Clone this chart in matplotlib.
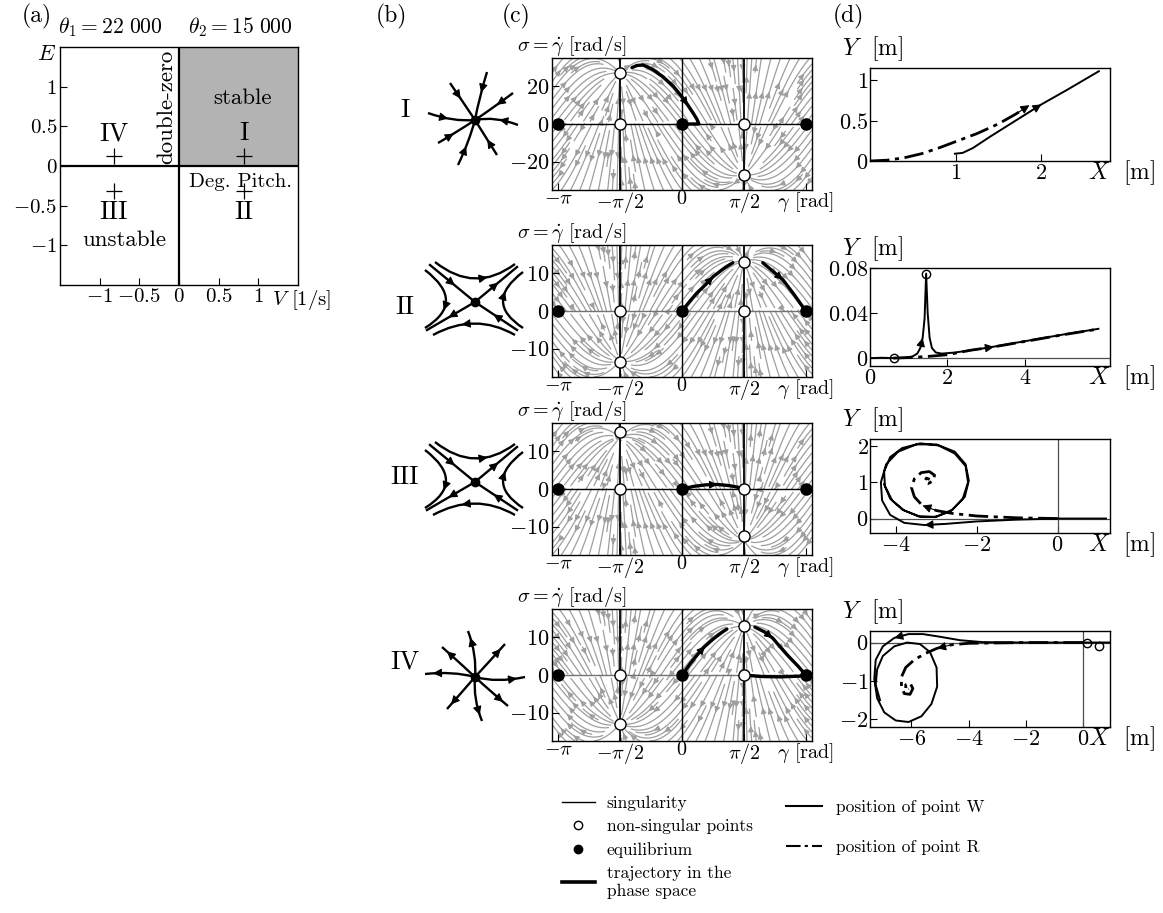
import numpy as np
import matplotlib
matplotlib.use('Agg')
import matplotlib.pyplot as plt
from matplotlib.path import Path
from matplotlib.patches import PathPatch, Rectangle
from matplotlib.lines import Line2D

plt.rcParams['font.family'] = 'serif'
plt.rcParams['font.serif'] = ['cmr10']
plt.rcParams['mathtext.fontset'] = 'cm'
plt.rcParams['axes.formatter.use_mathtext'] = True
plt.rcParams['axes.linewidth'] = 1.0

PI = np.pi

# ---------------- data ----------------
# (a) stability diagram
region_names = ['I', 'II', 'III', 'IV']
region_V = [0.82, 0.82, -0.82, -0.82]
region_E = [0.13, -0.32, -0.32, 0.13]
ab_ticks = [-1, -0.5, 0, 0.5, 1]
ab_ticklabels = ['$-1$', '$-0.5$', '$0$', '$0.5$', '$1$']

# (c) phase plane
sigma_lim = [35, 17.5, 17.5, 17.5]
sigma_ticks = [[-20, 0, 20], [-10, 0, 10], [-10, 0, 10], [-10, 0, 10]]
gamma_ticks = [-PI, -PI / 2, 0, PI / 2, PI]
gamma_ticklabels = [r'$-\pi$', r'$-\pi/2$', r'$0$', r'$\pi/2$', r'$\gamma$ [rad]']
equil_gamma = [-PI, 0, PI]
nonsing_gamma = [-PI / 2, -PI / 2, PI / 2, PI / 2]
nonsing_sigma = [[27, 0, 0, -27], [-13.5, 0, 13, 0], [15, 0, 0, -12.5], [-13, 0, 13, 0]]
zero_line_color = ['k', '0.45', 'k', '0.45']

# sigma value at gamma = -pi/2 where the grey stream lines meet
pencil_sigma = [27, -13.3, 13.7, -13]

# trajectories in the phase space: (gamma, sigma, arrow index)
traj_c = [
    [([-1.27, -1.15, -0.99, -0.75, -0.48, -0.22, 0.0, 0.15, 0.28, 0.38, 0.43, 0.3, 0.15, 0.0],
      [29.9, 31, 31.3, 29, 25, 20, 14.4, 10, 5.9, 2.5, 0, 0, 0, 0], 6)],
    [([0, 0.2, 0.38, 0.6, 0.79, 1.05, 1.29], [0, 2.6, 4.8, 7, 9.1, 11.2, 12.8], 3),
     ([2.05, 2.3, 2.56, 2.85, 3.14], [12.8, 10.6, 8.3, 4.3, 0], 1)],
    [([0, 0.3, 0.6, 0.9, 1.2, 1.45, 1.57], [0, 0.7, 1.1, 1.2, 0.9, 0.4, 0], 2)],
    [([0, 0.2, 0.4, 0.58, 0.8, 1.0, 1.14], [0, 2.9, 5.5, 7.6, 9.6, 11.2, 12.2], 2),
     ([1.85, 2.1, 2.3, 2.48, 2.7, 2.95, 3.14], [12.7, 11.4, 9.8, 7.6, 5, 2.3, 0], 1),
     ([1.57, 2.0, 2.5, 3.0, 3.14], [0, -0.4, -0.5, -0.3, 0], None)],
]

# (d) positions of points W and R
d_xlim = [(0, 2.8), (0, 6.2), (-4.65, 1.3), (-7.45, 0.95)]
d_ylim = [(0, 1.15), (-0.007, 0.08), (-0.4, 2.2), (-2.2, 0.3)]
d_xticks = [[1, 2], [0, 2, 4], [-4, -2, 0], [-6, -4, -2, 0]]
d_yticks = [[0, 0.5, 1], [0, 0.04, 0.08], [0, 1, 2], [-2, -1, 0]]
d_yticklabels = [['$0$', '$0.5$', '$1$'], ['$0$', '$0.04$', '$0.08$'],
                 ['$0$', '$1$', '$2$'], ['$-2$', '$-1$', '$0$']]

W_x = [
    [0.99, 1.08, 1.2, 1.4, 1.7, 2.0, 2.3, 2.67],
    [0, 0.3, 0.62, 0.9, 1.1, 1.22, 1.3, 1.36, 1.41, 1.45, 1.49, 1.54, 1.6, 1.7, 1.85, 2.2, 3, 4, 5, 5.9],
    [1.2, 0.5, 0, -1, -2, -2.8, -3.3, -3.8, -4.15, -4.35, -4.38, -4.25, -3.95, -3.5, -3.0, -2.55,
     -2.28, -2.2, -2.3, -2.6, -3.0, -3.4, -3.8, -4.1, -4.28, -4.3, -4.15, -3.85, -3.4, -2.95, -2.55,
     -2.28, -2.22, -2.35, -2.65, -3.05, -3.45, -3.85, -4.15, -4.3],
    [0.95, 0.6, 0, -2, -3.5, -4.3, -5.0, -5.6, -6.1, -6.6, -7.0, -7.25, -7.3, -7.2, -6.95, -6.55,
     -6.1, -5.65, -5.3, -5.1, -5.12, -5.35, -5.7, -6.15, -6.6, -7.0, -7.2, -7.25, -7.1],
]
W_y = [
    [0.09, 0.1, 0.16, 0.3, 0.5, 0.7, 0.88, 1.11],
    [0, 0.0003, 0, 0.0004, 0.0015, 0.004, 0.009, 0.018, 0.035, 0.075, 0.04, 0.018, 0.009, 0.005,
     0.004, 0.005, 0.009, 0.015, 0.021, 0.026],
    [0, 0, 0, -0.03, -0.08, -0.15, -0.18, -0.12, 0.1, 0.5, 1.0, 1.5, 1.85, 2.05, 2.05, 1.85,
     1.5, 1.05, 0.6, 0.25, 0.05, 0.05, 0.22, 0.5, 0.9, 1.3, 1.7, 1.95, 2.08, 2.02, 1.8,
     1.45, 1.0, 0.55, 0.2, 0.04, 0.06, 0.25, 0.55, 0.95],
    [0, 0, 0, 0, 0.01, 0.06, 0.15, 0.22, 0.22, 0.12, -0.1, -0.45, -0.95, -1.45, -1.82, -2.03,
     -2.07, -1.92, -1.6, -1.15, -0.65, -0.25, -0.04, 0.0, -0.1, -0.35, -0.7, -1.1, -1.5],
]
W_arrow = [4, 6, 5, 8]
R_x = [
    [0, 0.2, 0.4, 0.6, 0.8, 1.0, 1.25, 1.5, 1.7, 1.86],
    [0.6, 1.0, 1.5, 2.0, 2.6, 3.2, 4, 5, 5.9],
    [0, -1, -2, -2.6, -3.0, -3.35, -3.55, -3.62, -3.55, -3.38, -3.18, -3.05, -3.08, -3.2, -3.3, -3.25, -3.17],
    [0, -2, -4, -4.6, -5.1, -5.5, -5.9, -6.2, -6.35, -6.35, -6.25, -6.05, -5.95, -6.05, -6.2, -6.2, -6.1],
]
R_y = [
    [0, 0.01, 0.04, 0.09, 0.16, 0.24, 0.34, 0.46, 0.58, 0.69],
    [0, 0.0005, 0.0015, 0.003, 0.007, 0.010, 0.0148, 0.0208, 0.0258],
    [0, 0.02, 0.07, 0.14, 0.22, 0.36, 0.6, 0.85, 1.1, 1.27, 1.3, 1.2, 1.05, 0.97, 1.03, 1.12, 1.08],
    [0, 0, -0.02, -0.06, -0.15, -0.28, -0.45, -0.65, -0.9, -1.15, -1.33, -1.35, -1.2, -1.05, -1.1, -1.25, -1.2],
]
R_arrow = [8, 4, 4, 3]
d_circles_x = [[], [0.62, 1.45], [], [0.15, 0.55]]
d_circles_y = [[], [0.0, 0.075], [], [0.0, -0.08]]

# ---------------- figure ----------------
FW, FH = 1163, 913
fig = plt.figure(figsize=(FW / 100, FH / 100), dpi=100)
TICK = 16


def px_axes(left, top, width, height):
    return fig.add_axes([left / FW, 1 - (top + height) / FH, width / FW, height / FH])


def ftext(x, y, s, **kw):
    fig.text(x / FW, 1 - y / FH, s, **kw)


def head(ax, x0, y0, x1, y1, size=13):
    ax.annotate('', xy=(x1, y1), xytext=(x0, y0),
                arrowprops=dict(arrowstyle='-|>', color='k', lw=0.8, mutation_scale=size,
                                shrinkA=0, shrinkB=0))


def style_ticks(ax, size=TICK):
    ax.tick_params(direction='in', length=5, width=0.8, labelsize=size, pad=2,
                   top=False, right=False)


# ---- (a)
ax = px_axes(60, 47, 238, 238)
ax.set_xlim(-1.5, 1.5)
ax.set_ylim(-1.5, 1.5)
ax.add_patch(Rectangle((0, 0), 1.5, 1.5, fc='#b3b3b3', ec='none'))
ax.axhline(0, color='k', lw=1.6)
ax.axvline(0, color='k', lw=1.6)
ax.set_xticks(ab_ticks)
ax.set_xticklabels(ab_ticklabels)
ax.set_yticks(ab_ticks)
ax.set_yticklabels(ab_ticklabels)
style_ticks(ax, 15)
ax.plot(region_V, region_E, '+', color='k', ms=12, mew=0.9)
for name, v, e in zip(region_names, region_V, region_E):
    ax.text(v, e + (0.28 if e > 0 else -0.26), name, ha='center', va='center', fontsize=19)
ax.text(0.8, 0.85, 'stable', ha='center', va='center', fontsize=16.5)
ax.text(-0.69, -0.94, 'unstable', ha='center', va='center', fontsize=16.5)
ax.text(0.78, -0.2, 'Deg. Pitch.', ha='center', va='center', fontsize=15)
ax.text(-0.16, 0.74, 'double-zero', ha='center', va='center', rotation=90, fontsize=16.5)
ftext(58, 33, r'$\theta_1 = 22\ 000$', fontsize=15.5, va='baseline')
ftext(188, 33, r'$\theta_2 = 15\ 000$', fontsize=15.5, va='baseline')
ftext(37, 60, '$E$', fontsize=16, va='baseline')
ftext(272, 305, '$V$ [1/s]', fontsize=15, va='baseline')

# panel letters
ftext(22, 22, '(a)', fontsize=17, va='baseline')
ftext(376, 22, '(b)', fontsize=17, va='baseline')
ftext(502, 22, '(c)', fontsize=17, va='baseline')
ftext(833, 22, '(d)', fontsize=17, va='baseline')

# ---- (b) schematic portraits
node_branches = [((12, 48), (4, 22)), ((-25, 37), (-12, 18)), ((-47, 7), (-22, -2)),
                 ((-37, -23), (-18, -12)), ((-17, -45), (-6, -22)), ((22, -35), (10, -16)),
                 ((43, -5), (20, 4)), ((38, 27), (18, 12))]
unode_branches = [((-7, 46), (2, 22)), ((-33, 30), (-15, 14)), ((-50, 3), (-22, 6)),
                  ((-28, -32), (-13, -15)), ((7, -44), (-2, -22)), ((33, -29), (15, -14)),
                  ((50, 0), (22, -6)), ((30, 33), (14, 15))]
saddle_diag_in = [(-45, 37), (42, -28)]
saddle_diag_out = [(-48, -28), (42, 35)]
saddle_hyper = [((-40, 40), (0, 8), (40, 38)), ((48, -26), (8, 0), (48, 30)),
                ((40, -33), (0, -10), (-42, -33)), ((-50, 32), (-8, 0), (-50, -26))]
icon_centers = [120, 302, 482, 677]
icon_kind = ['stable', 'saddle', 'saddle', 'unstable']
row_label_y = [110, 307, 477, 662]


def bez(p0, c, p2, t):
    p0, c, p2 = np.array(p0, float), np.array(c, float), np.array(p2, float)
    pt = (1 - t) ** 2 * p0 + 2 * t * (1 - t) * c + t ** 2 * p2
    tg = 2 * (1 - t) * (c - p0) + 2 * t * (p2 - c)
    return pt, tg / np.hypot(*tg)


for kind, yc, ly, name in zip(icon_kind, icon_centers, row_label_y, region_names):
    ia = px_axes(410, yc - 65, 130, 130)
    ia.set_xlim(-65, 65)
    ia.set_ylim(-65, 65)
    ia.axis('off')
    if kind in ('stable', 'unstable'):
        branches = node_branches if kind == 'stable' else unode_branches
        for p0, c in branches:
            path = Path([p0, c, (0, 0)], [Path.MOVETO, Path.CURVE3, Path.CURVE3])
            ia.add_patch(PathPatch(path, fc='none', ec='k', lw=1.7))
            pt, tg = bez(p0, c, (0, 0), 0.35)
            if kind == 'unstable':
                pt, tg = bez(p0, c, (0, 0), 0.2)
                tg = -tg
            head(ia, pt[0] - 3 * tg[0], pt[1] - 3 * tg[1], pt[0] + 3 * tg[0], pt[1] + 3 * tg[1])
    else:
        for p in saddle_diag_in:
            ia.plot([p[0], 0], [p[1], 0], color='k', lw=1.7)
            m = np.array(p) * 0.5
            d = -np.array(p) / np.hypot(*p)
            head(ia, m[0] - 3 * d[0], m[1] - 3 * d[1], m[0] + 3 * d[0], m[1] + 3 * d[1])
        for p in saddle_diag_out:
            ia.plot([p[0], 0], [p[1], 0], color='k', lw=1.7)
            m = np.array(p) * 0.5
            d = np.array(p) / np.hypot(*p)
            head(ia, m[0] - 3 * d[0], m[1] - 3 * d[1], m[0] + 3 * d[0], m[1] + 3 * d[1])
        for p0, c, p2 in saddle_hyper:
            path = Path([p0, c, p2], [Path.MOVETO, Path.CURVE3, Path.CURVE3])
            ia.add_patch(PathPatch(path, fc='none', ec='k', lw=1.7))
            pt, tg = bez(p0, c, p2, 0.62)
            head(ia, pt[0] - 3 * tg[0], pt[1] - 3 * tg[1], pt[0] + 3 * tg[0], pt[1] + 3 * tg[1])
    ia.plot([0], [0], 'o', color='k', ms=6)
    ftext(405, ly, name, fontsize=19, ha='center', va='center')

# ---- (c) phase planes
c_tops = [58, 245, 423, 609]
for i in range(4):
    ax = px_axes(552, c_tops[i], 260, 132)
    lim = sigma_lim[i]
    g = np.linspace(-3.3, 3.3, 120)
    s = np.linspace(-lim, lim, 90)
    G, S = np.meshgrid(g, s)
    # grey lines: family sigma = -s0 sin(gamma) + C cos(gamma), moving with gamma' = sigma
    s0 = pencil_sigma[i]
    U = S * np.abs(np.cos(G))
    V = -S * (s0 + S * np.sin(G)) * np.sign(np.cos(G))
    kw = dict(density=(1.9, 1.5), maxlength=1.2, color='0.62', linewidth=0.9,
              arrowsize=0.8, zorder=1)
    try:
        ax.streamplot(G, S, U, V, num_arrows=4, **kw)
    except TypeError:
        ax.streamplot(G, S, U, V, **kw)
    ax.set_xlim(-3.3, 3.3)
    ax.set_ylim(-lim, lim)
    ax.axhline(0, color=zero_line_color[i], lw=1.0, zorder=2)
    for gv in [-PI / 2, PI / 2]:
        ax.axvline(gv, color='k', lw=1.3, zorder=2)
    ax.axvline(0, color='k', lw=1.0, zorder=2)
    for gs, ss, ai in traj_c[i]:
        ax.plot(gs, ss, color='k', lw=2.4, zorder=3, solid_capstyle='round')
        if ai is not None:
            head(ax, gs[ai], ss[ai], gs[ai + 1], ss[ai + 1], size=12)
    ax.plot(equil_gamma, [0] * 3, 'o', color='k', ms=8, zorder=5, clip_on=False)
    ax.plot(nonsing_gamma, nonsing_sigma[i], 'o', mfc='white', mec='k', mew=1.0, ms=8,
            zorder=5, clip_on=False)
    ax.set_xticks(gamma_ticks)
    ax.set_xticklabels(gamma_ticklabels)
    ax.set_yticks(sigma_ticks[i])
    ax.set_yticklabels(['$%d$' % v if v >= 0 else '$-%d$' % -v for v in sigma_ticks[i]])
    style_ticks(ax)
    ax.tick_params(axis='x', pad=0, labelsize=14.5)
    ftext(517, c_tops[i], r'$\sigma = \dot{\gamma}$ [rad/s]', fontsize=14.5, va='bottom')

# ---- (d) positions
d_tops = [68, 268, 439, 631]
d_heights = [93, 98, 94, 96]
for i in range(4):
    ax = px_axes(870, d_tops[i], 240, d_heights[i])
    ax.set_xlim(*d_xlim[i])
    ax.set_ylim(*d_ylim[i])
    if i >= 1:
        ax.axhline(0, color='0.3', lw=0.9)
    if i >= 2:
        ax.axvline(0, color='0.3', lw=0.9)
    ax.plot(W_x[i], W_y[i], color='k', lw=1.4)
    ax.plot(R_x[i], R_y[i], color='k', lw=2.0, ls=(0, (7, 2, 1.5, 2)))
    k = W_arrow[i]
    head(ax, W_x[i][k], W_y[i][k], W_x[i][k + 1], W_y[i][k + 1], size=13)
    k = R_arrow[i]
    head(ax, R_x[i][k], R_y[i][k], R_x[i][k + 1], R_y[i][k + 1], size=13)
    if d_circles_x[i]:
        ax.plot(d_circles_x[i], d_circles_y[i], 'o', mfc='none', mec='k', ms=6, mew=1.0)
    ax.set_xticks(d_xticks[i])
    ax.set_xticklabels(['$%g$' % v if v >= 0 else '$-%g$' % -v for v in d_xticks[i]])
    ax.set_yticks(d_yticks[i])
    ax.set_yticklabels(d_yticklabels[i])
    style_ticks(ax)
    ax.tick_params(axis='y', pad=1)
    ftext(842, d_tops[i] - 5, '$Y$  [m]', fontsize=17, va='bottom')
    ftext(1088, d_tops[i] + d_heights[i] + 12, '$X$  [m]', fontsize=17, va='center')

# ---- legends
left_handles = [
    Line2D([], [], color='k', lw=1.0),
    Line2D([], [], ls='none', marker='o', mfc='white', mec='k', ms=6),
    Line2D([], [], ls='none', marker='o', color='k', ms=6),
    Line2D([], [], color='k', lw=2.6),
]
left_labels = ['singularity', 'non-singular points', 'equilibrium',
               'trajectory in the\nphase space']
fig.legend(left_handles, left_labels, loc='upper left', bbox_to_anchor=(546 / FW, 1 - 780 / FH),
           frameon=False, fontsize=12.5, handlelength=1.9, labelspacing=0.45, handletextpad=0.7)
right_handles = [
    Line2D([], [], color='k', lw=1.5),
    Line2D([], [], color='k', lw=1.5, ls=(0, (7, 2, 1.5, 2))),
]
right_labels = ['position of point W', 'position of point R']
fig.legend(right_handles, right_labels, loc='upper left', bbox_to_anchor=(770 / FW, 1 - 784 / FH),
           frameon=False, fontsize=12.5, handlelength=2.1, labelspacing=1.4, handletextpad=0.8)

fig.savefig('out.png', dpi=100)
